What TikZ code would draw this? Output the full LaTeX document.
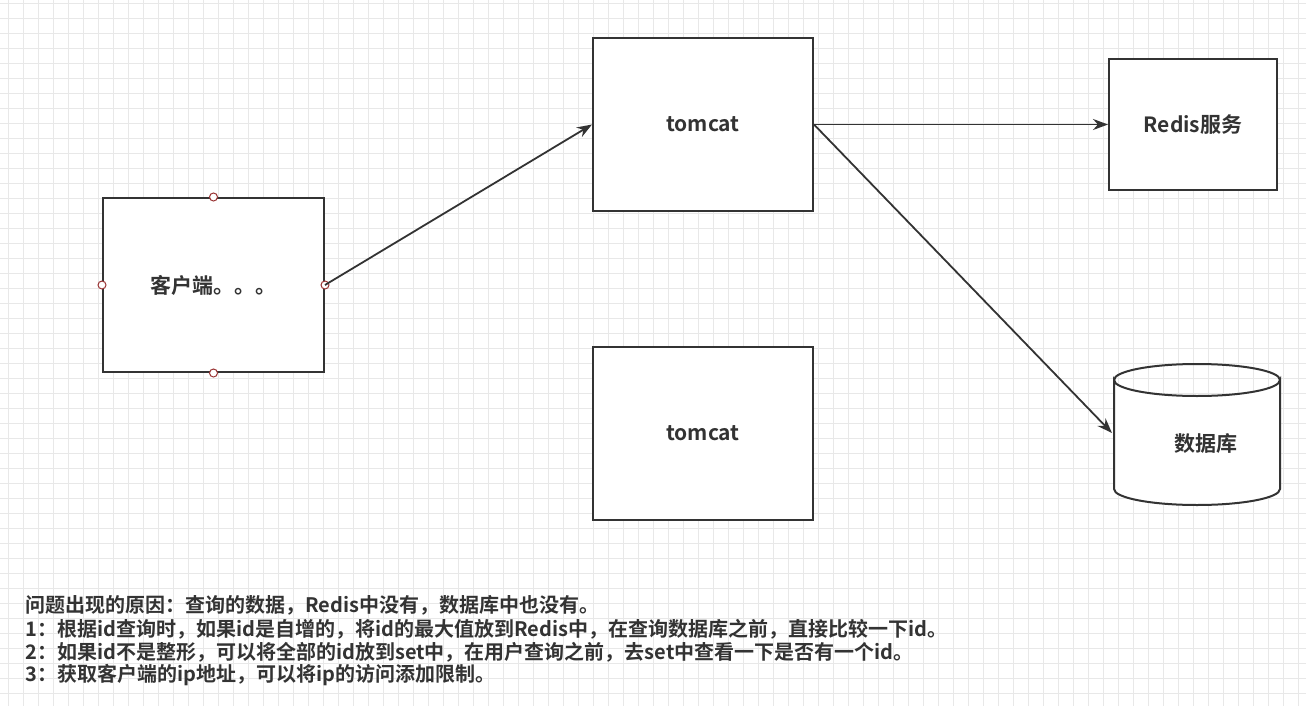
\documentclass[tikz,border=0pt]{standalone}
\usepackage{fontspec}
\newfontfamily\cjk{Noto Sans CJK SC Bold}
\usetikzlibrary{arrows.meta, positioning}
\definecolor{gridgray}{gray}{0.91}
\definecolor{boxline}{gray}{0.2}
\definecolor{handle}{rgb}{0.6,0.2,0.2}
\begin{document}
\begin{tikzpicture}[x=1pt, y=-1pt,
	box/.style={draw=boxline, line width=2pt, fill=white, text=boxline, font=\cjk\fontsize{21}{25}\selectfont},
	link/.style={draw=boxline, line width=1.8pt, -{Stealth[length=15pt, width=11pt]}},
	handle/.style={circle, draw=handle, fill=white, inner sep=0pt, minimum size=8pt, line width=1pt},
	note/.style={anchor=west, font=\cjk\fontsize{20}{24}\selectfont, text=boxline}]

\useasboundingbox (0,0) rectangle (1306,706);
\fill[white] (0,0) rectangle (1306,706);

% background grid
\foreach \x in {8, 23, ..., 1306} {
	\draw[gridgray, line width=0.7pt] (\x, 0) -- (\x, 706);
}
\foreach \y in {3, 18, ..., 706} {
	\draw[gridgray, line width=0.7pt] (0, \y) -- (1306, \y);
}

% boxes
\node[box, minimum width=221pt, minimum height=174pt] (client) at (213.5, 285) {客户端。。。};
\node[box, minimum width=220pt, minimum height=173pt] (tomcat1) at (703, 124.5) {tomcat};
\node[box, minimum width=220pt, minimum height=173pt] (tomcat2) at (703, 433.5) {tomcat};
\node[box, minimum width=168pt, minimum height=131pt] (redis) at (1193, 124.5) {Redis服务};

% database cylinder
\filldraw[boxline, fill=white, line width=2pt]
	(1114, 380) arc[start angle=180, end angle=0, x radius=83, y radius=16]
	-- (1280, 489) arc[start angle=0, end angle=180, x radius=83, y radius=16] -- cycle;
\draw[boxline, line width=2pt] (1114, 380) arc[start angle=180, end angle=360, x radius=83, y radius=16];
\node[font=\cjk\fontsize{21}{25}\selectfont, text=boxline] (db) at (1206, 444) {数据库};
\coordinate (dbin) at (1112, 433);

% handles
\foreach \a in {north, south, east, west} {
	\node[handle] at (client.\a) {};
}

% connectors
\draw[link] (client.east) -- (tomcat1.west);
\draw[link] (tomcat1.east) -- (redis.west);
\draw[link] (tomcat1.east) -- (dbin);

% notes
\node[note] (n0) at (22, 605) {问题出现的原因：查询的数据，Redis中没有，数据库中也没有。};
\node[note] (n1) at (22, 629) {1：根据id查询时，如果id是自增的，将id的最大值放到Redis中，在查询数据库之前，直接比较一下id。};
\node[note] (n2) at (22, 652) {2：如果id不是整形，可以将全部的id放到set中，在用户查询之前，去set中查看一下是否有一个id。};
\node[note] (n3) at (22, 675) {3：获取客户端的ip地址，可以将ip的访问添加限制。};

\end{tikzpicture}
\end{document}
